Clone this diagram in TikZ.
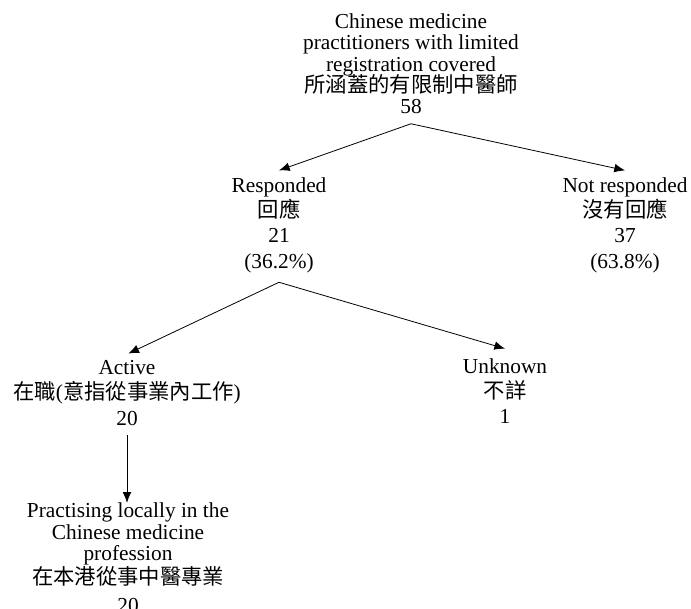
\documentclass[tikz,border=0pt]{standalone}
\usepackage{fontspec}
\setmainfont{Liberation Serif}
\newfontfamily\cjk{Noto Sans CJK TC}
\usetikzlibrary{arrows.meta}

\newcommand\tightlines{\lineskiplimit=-100pt\relax}

\tikzset{
  txt/.style={align=center, inner sep=2pt, font=\fontsize{16}{16}\selectfont\tightlines},
  txtloose/.style={txt, font=\fontsize{16}{19}\selectfont\tightlines},
  arr/.style={-{Latex[length=8pt,width=6.5pt]}, line width=0.6pt},
}

\begin{document}
\begin{tikzpicture}[x=0.75pt,y=-0.75pt]
  \useasboundingbox (0,0) rectangle (691,609);

  % population and response
  \node[txt] (all) at (411,64) {Chinese medicine\\practitioners with limited\\registration covered\\{\cjk 所涵蓋的有限制中醫師}\\58};
  \node[txtloose] (resp) at (279,225) {Responded\\{\cjk 回應}\\21\\(36.2\%)};
  \node[txtloose] (noresp) at (625,225) {Not responded\\{\cjk 沒有回應}\\37\\(63.8\%)};

  % status of respondents
  \node[txtloose] (act) at (127,393) {Active\\{\cjk 在職}({\cjk 意指從事業內工作})\\20};
  \node[txtloose] (unk) at (505,391) {Unknown\\{\cjk 不詳}\\1};
  \node[txt] (prac) at (128,558) {Practising locally in the\\Chinese medicine\\profession\\[2pt]{\cjk 在本港從事中醫專業}\\[5pt]20};

  \draw[arr] ([yshift=-5pt]all.south) -- ([yshift=3pt]resp.north);
  \draw[arr] ([yshift=-5pt]all.south) -- ([yshift=3pt]noresp.north);
  \draw[arr] ([yshift=-5pt]resp.south) -- ([xshift=1pt,yshift=3pt]act.north);
  \draw[arr] ([yshift=-5pt]resp.south) -- ([yshift=5pt]unk.north);
  \draw[arr] ([yshift=-5pt]act.south) -- ([yshift=-2pt]act.south |- prac.north);
\end{tikzpicture}
\end{document}
